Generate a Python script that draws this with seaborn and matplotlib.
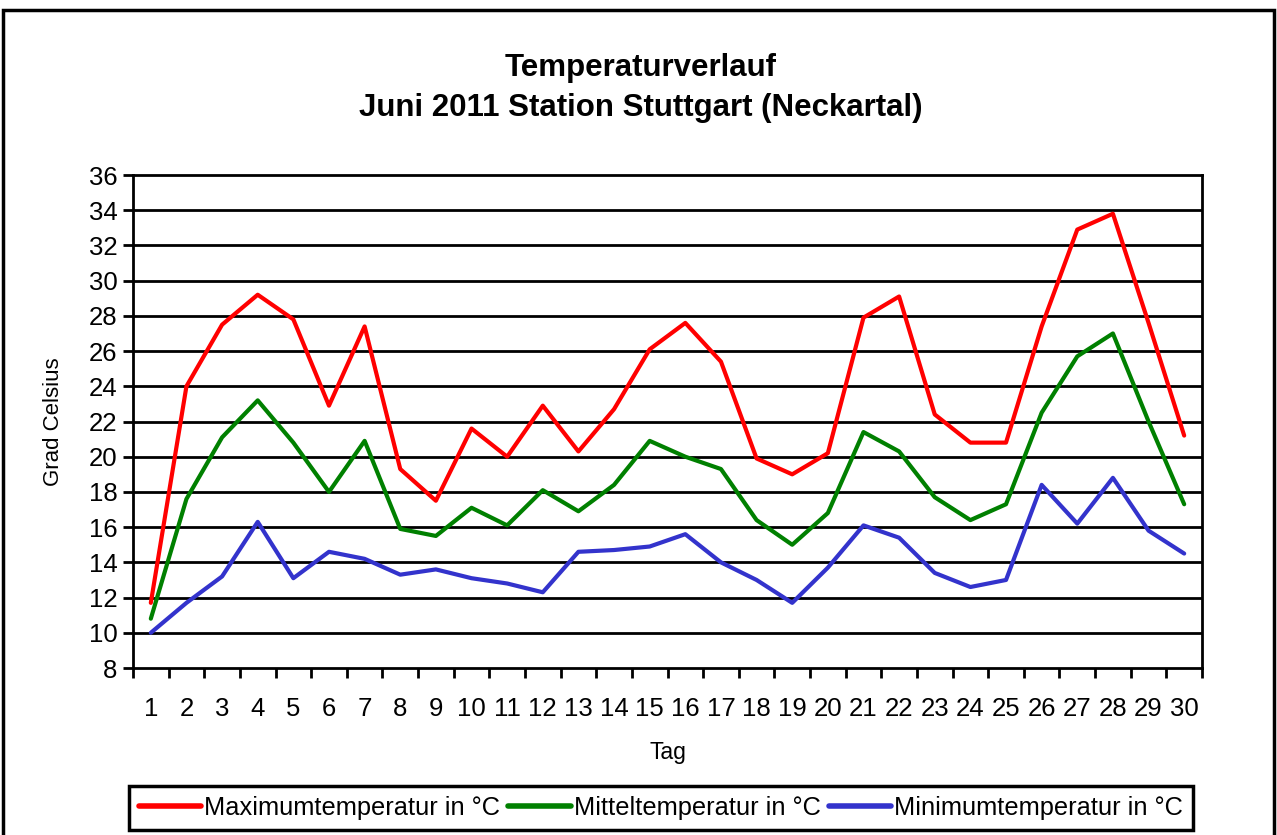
import matplotlib
matplotlib.use("Agg")
import matplotlib.pyplot as plt
import seaborn as sns
import pandas as pd
import numpy as np
from matplotlib.patches import Rectangle

days = list(range(1, 31))
t_max = [11.7, 24.0, 27.5, 29.2, 27.8, 22.9, 27.4, 19.3, 17.5, 21.6,
         20.0, 22.9, 20.3, 22.7, 26.1, 27.6, 25.4, 19.9, 19.0, 20.2,
         27.9, 29.1, 22.4, 20.8, 20.8, 27.4, 32.9, 33.8, 27.6, 21.2]
t_mean = [10.8, 17.6, 21.1, 23.2, 20.8, 18.0, 20.9, 15.9, 15.5, 17.1,
          16.1, 18.1, 16.9, 18.4, 20.9, 20.0, 19.3, 16.4, 15.0, 16.8,
          21.4, 20.3, 17.7, 16.4, 17.3, 22.5, 25.7, 27.0, 22.0, 17.3]
t_min = [10.0, 11.7, 13.2, 16.3, 13.1, 14.6, 14.2, 13.3, 13.6, 13.1,
         12.8, 12.3, 14.6, 14.7, 14.9, 15.6, 14.0, 13.0, 11.7, 13.7,
         16.1, 15.4, 13.4, 12.6, 13.0, 18.4, 16.2, 18.8, 15.8, 14.5]
series_names = ["Maximumtemperatur in °C", "Mitteltemperatur in °C", "Minimumtemperatur in °C"]
colors = ["#FF0000", "#008000", "#3333CC"]
y_ticks = list(range(8, 37, 2))

df = pd.concat([
    pd.DataFrame({"Tag": days, "Wert": vals, "Reihe": name})
    for name, vals in zip(series_names, [t_max, t_mean, t_min])
])

sns.set_style("white")
plt.rcParams["font.family"] = ["Liberation Sans", "DejaVu Sans"]
plt.rcParams["text.color"] = "black"
plt.rcParams["axes.labelcolor"] = "black"
plt.rcParams["xtick.color"] = "black"
plt.rcParams["ytick.color"] = "black"

fig = plt.figure(figsize=(12.77, 8.35), dpi=100)
ax = fig.add_axes([133/1277, 1 - 668/835, (1202-133)/1277, (668-175)/835])

for y in y_ticks[1:-1]:
    ax.axhline(y, color="black", lw=2, zorder=1)

sns.lineplot(data=df, x="Tag", y="Wert", hue="Reihe", palette=colors,
             hue_order=series_names, lw=3, ax=ax, legend=True, zorder=3)

ax.set_xlim(0.5, 30.5)
ax.set_ylim(8, 36)
ax.set_yticks(y_ticks)
ax.set_xticks(days)
ax.set_xticks(np.arange(0.5, 31, 1), minor=True)
ax.tick_params(axis="x", which="major", bottom=True, length=0, labelsize=18.5, pad=21)
ax.tick_params(axis="x", which="minor", bottom=True, length=7, width=2, direction="out", color="black")
ax.tick_params(axis="y", which="major", left=True, length=7, width=2, direction="out",
               color="black", labelsize=18.5, pad=4)
for s in ax.spines.values():
    s.set_color("black")
    s.set_linewidth(2)

ax.set_xlabel("Tag", fontsize=16.5, labelpad=14)
ax.set_ylabel("Grad Celsius", fontsize=16, labelpad=18)

handles, labels = ax.get_legend_handles_labels()
ax.get_legend().remove()
leg = fig.legend(handles, labels, loc="center", ncol=3,
                 bbox_to_anchor=(661/1277, 1 - 808/835), frameon=True,
                 fontsize=18.3, handlelength=2.45, handletextpad=0.12,
                 columnspacing=0.32, borderpad=0.4, borderaxespad=0,
                 fancybox=False, framealpha=1)
leg.get_frame().set_edgecolor("black")
leg.get_frame().set_linewidth(2.5)
for h in leg.legend_handles:
    h.set_linewidth(4)

fig.text(641/1277, 1 - 68/835, "Temperaturverlauf", ha="center", va="center",
         fontsize=22.5, fontweight="bold")
fig.text(641/1277, 1 - 108/835, "Juni 2011 Station Stuttgart (Neckartal)", ha="center", va="center",
         fontsize=22.5, fontweight="bold")

fig.patches.append(Rectangle((3/1277, -0.02), 1271/1277, 1 - 10/835 + 0.02,
                             transform=fig.transFigure, fill=False,
                             edgecolor="black", lw=2.5))

fig.savefig("out.png", dpi=100)
